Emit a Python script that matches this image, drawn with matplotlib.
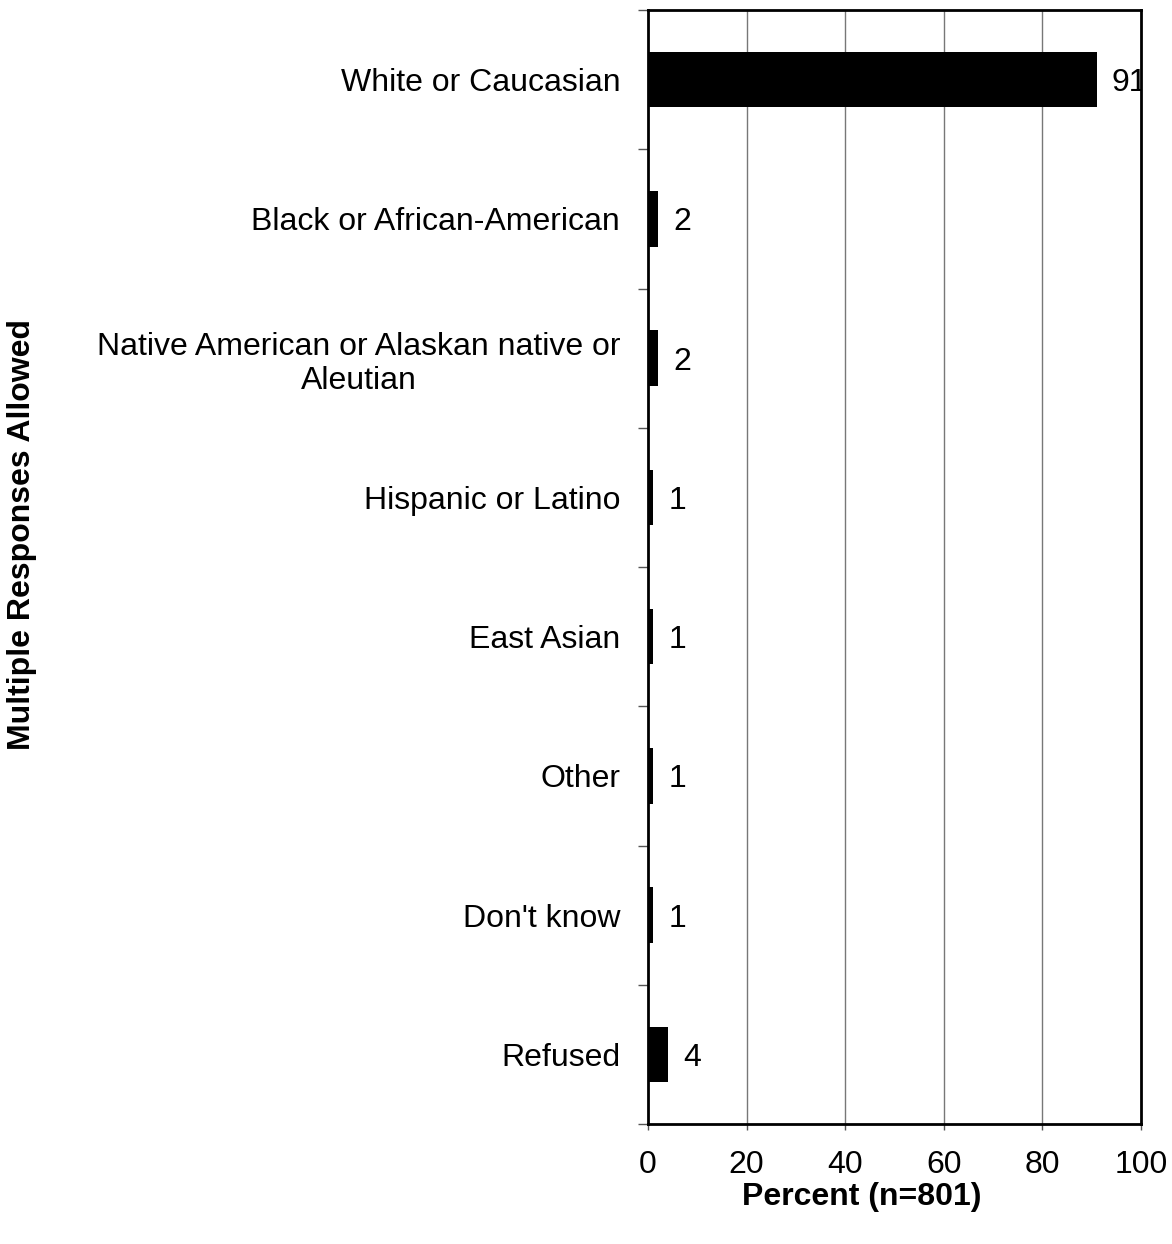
import matplotlib
matplotlib.use("Agg")
import matplotlib.pyplot as plt

categories = ["White or Caucasian", "Black or African-American",
              "Native American or Alaskan native or\nAleutian",
              "Hispanic or Latino", "East Asian", "Other", "Don't know", "Refused"]
values = [91, 2, 2, 1, 1, 1, 1, 4]
x_ticks = [0, 20, 40, 60, 80, 100]

plt.rcParams['font.family'] = ['Liberation Sans', 'DejaVu Sans']

W, H = 1172, 1244
fig = plt.figure(figsize=(W / 100, H / 100), dpi=100)
# axes box in pixel coords: left 648, right 1141, top 10, bottom 1124
ax = fig.add_axes([648 / W, 1 - 1124 / H, (1141 - 648) / W, (1124 - 10) / H])

n = len(categories)
pos = list(range(n))
ax.barh(pos, values, height=0.4, color='black', zorder=3)
ax.set_ylim(n - 0.5, -0.5)
ax.set_xlim(0, 100)

# value labels are clipped by the frame (the "91" runs into the right spine)
for p, v in zip(pos, values):
    ax.text(v + 3.1, p, str(v), va='center_baseline', ha='left', fontsize=23, zorder=2, clip_on=True)

# category boundaries get the ticks, labels sit on minor ticks
ax.set_yticks([p - 0.5 for p in range(n + 1)], minor=False)
ax.set_yticklabels([])
ax.tick_params(axis='y', which='major', length=7, width=1, color='#555555', direction='out')
ax.set_yticks(pos, minor=True)
ax.set_yticklabels(categories, minor=True, fontsize=23, multialignment='center')
ax.tick_params(axis='y', which='minor', length=0, pad=20)

ax.set_xticks(x_ticks)
ax.set_xticklabels([str(t) for t in x_ticks], fontsize=23)
ax.tick_params(axis='x', length=4, width=1, color='#555555', direction='out', pad=15)

for t in x_ticks[1:-1]:
    ax.axvline(t, color='#777777', lw=1, zorder=1)

for s in ax.spines.values():
    s.set_linewidth(2)
    s.set_color('black')
    s.set_zorder(5)

fig.text(862 / W, 1 - 1197 / H, "Percent (n=801)", ha='center', va='center',
         fontsize=23, fontweight='bold')
fig.text(22 / W, 1 - 535 / H, "Multiple Responses Allowed", ha='center', va='center',
         rotation=90, fontsize=23, fontweight='bold')

fig.savefig("out.png", dpi=100)
